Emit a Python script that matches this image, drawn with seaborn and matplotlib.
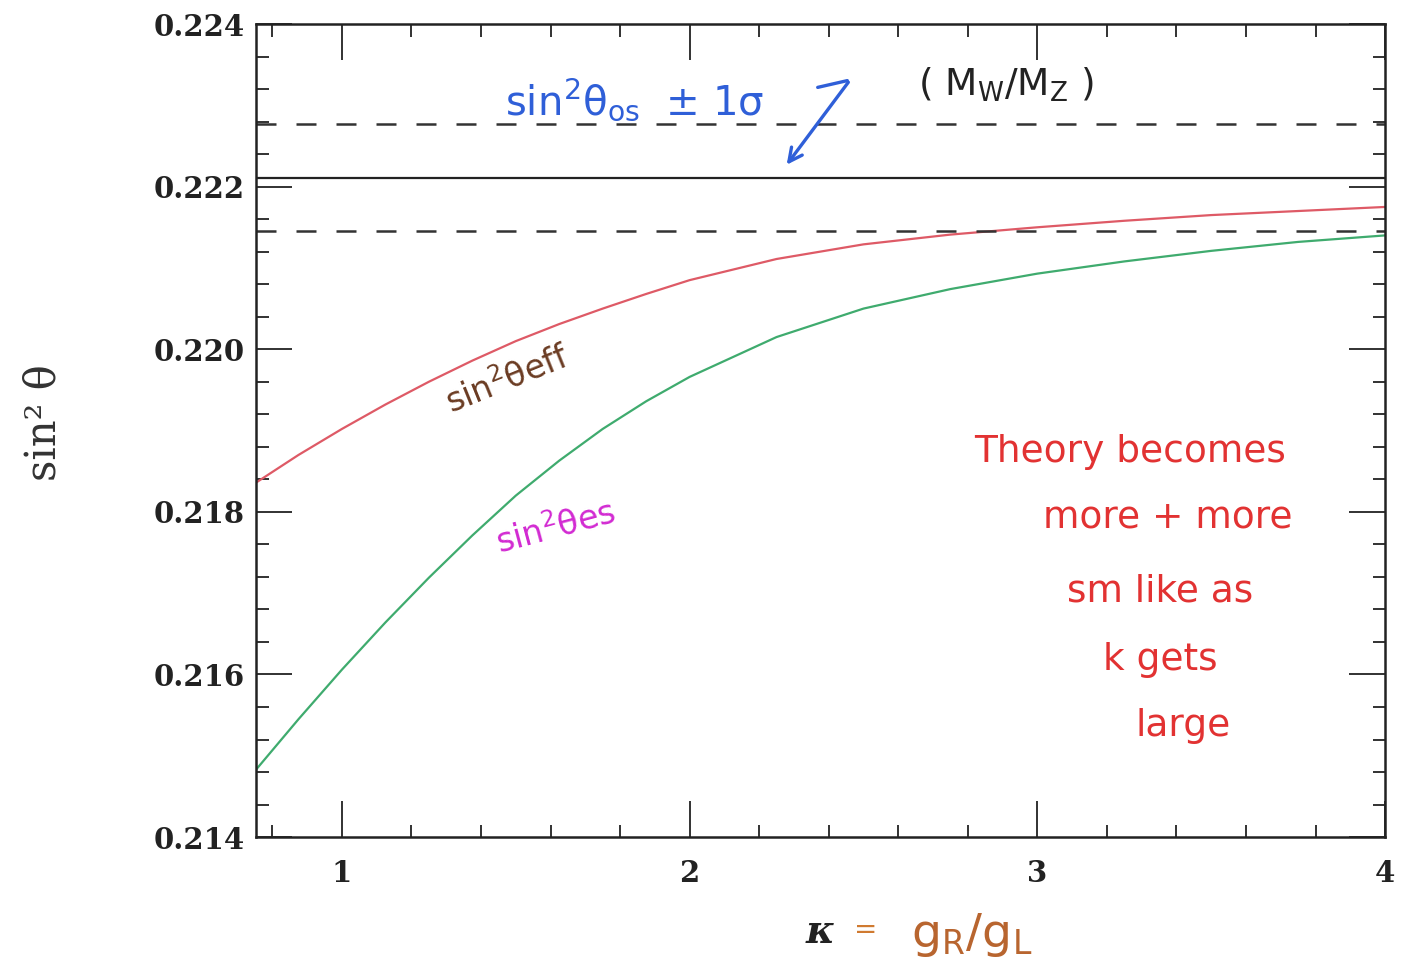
import matplotlib
matplotlib.use("Agg")
import matplotlib.pyplot as plt
from matplotlib.ticker import MultipleLocator, FormatStrFormatter
import numpy as np
import pandas as pd
import seaborn as sns

# kappa = g_R / g_L
kappa = [0.753, 0.875, 1.0, 1.125, 1.25, 1.375, 1.5, 1.625, 1.75, 1.875,
         2.0, 2.25, 2.5, 2.75, 3.0, 3.25, 3.5, 3.75, 4.0]
# sin^2 theta_eff (red curve)
sin2_eff = [0.21836, 0.21870, 0.21902, 0.21932, 0.21960, 0.21986, 0.22010, 0.22031,
            0.22050, 0.22068, 0.22085, 0.22111, 0.22129, 0.22141, 0.22150, 0.22158,
            0.22165, 0.22170, 0.22175]
# sin^2 theta_es (green curve)
sin2_es = [0.21483, 0.21545, 0.21606, 0.21664, 0.21719, 0.21771, 0.21820, 0.21863,
           0.21902, 0.21936, 0.21966, 0.22015, 0.22050, 0.22074, 0.22093, 0.22108,
           0.22121, 0.22132, 0.22140]
# on-shell value from Mw/Mz with 1 sigma band
sin2_os = 0.22211
sin2_os_err = 0.00066

df = pd.DataFrame({"kappa": kappa, "eff": sin2_eff, "es": sin2_es})

sns.set_theme(style="ticks")
plt.rcParams["font.family"] = ["DejaVu Sans"]

fig = plt.figure(figsize=(14.1, 9.6), dpi=100)
ax = fig.add_axes([0.1816, 0.128, 0.8007, 0.847])

sns.lineplot(data=df, x="kappa", y="eff", color="#de5a66", lw=1.6, ax=ax)
sns.lineplot(data=df, x="kappa", y="es", color="#3fab6e", lw=1.6, ax=ax)

ax.axhline(sin2_os, color="#222222", lw=1.6)
for s in (-1, 1):
    ax.axhline(sin2_os + s * sin2_os_err, color="#333333", lw=1.8, ls=(0, (8, 8)))

ax.set_xlim(0.753, 4.0)
ax.set_ylim(0.214, 0.224)
ax.xaxis.set_major_locator(MultipleLocator(1))
ax.xaxis.set_minor_locator(MultipleLocator(0.2))
ax.yaxis.set_major_locator(MultipleLocator(0.002))
ax.yaxis.set_minor_locator(MultipleLocator(0.0004))
ax.xaxis.set_major_formatter(FormatStrFormatter("%d"))
ax.yaxis.set_major_formatter(FormatStrFormatter("%.3f"))
ax.tick_params(which="both", direction="in", top=True, right=True, color="#222222")
ax.tick_params(which="major", length=26, width=1.3, labelsize=21)
ax.tick_params(which="minor", length=9, width=1.3)
ax.tick_params(axis="x", which="major", pad=16)
ax.tick_params(axis="y", which="major", pad=8)
for lab in ax.get_xticklabels() + ax.get_yticklabels():
    lab.set_fontfamily("DejaVu Serif")
    lab.set_fontweight("semibold")
    lab.set_color("#222222")
for sp in ax.spines.values():
    sp.set_linewidth(1.8)
    sp.set_color("#222222")

ax.set_xlabel("")
ax.set_ylabel("sin² θ", fontfamily="DejaVu Serif", fontsize=30, color="#333333")
ax.yaxis.set_label_coords(-0.17, 0.51)

# x label, hand written
fig.text(820 / 1410, 1 - 932 / 960, "κ", fontsize=28, fontfamily="DejaVu Serif",
         style="italic", fontweight="bold", color="#222222", ha="center", va="center")
fig.text(866 / 1410, 1 - 930 / 960, "=", fontsize=20, color="#d07a30", ha="center", va="center")
fig.text(972 / 1410, 1 - 935 / 960, r"g$_\mathrm{R}$/g$_\mathrm{L}$", fontsize=34,
         color="#b8652f", ha="center", va="center")

# on-shell annotation
blue = "#2f5fd8"
fig.text(505 / 1410, 1 - 100 / 960, r"sin$^\mathrm{2}$θ$_\mathrm{os}$  ± 1σ", fontsize=29,
         color=blue, ha="left", va="center")
ax.annotate("", xy=(850, 960 - 80), xytext=(815, 960 - 88), xycoords="figure pixels",
            textcoords="figure pixels", arrowprops=dict(arrowstyle="-", color=blue, lw=2.4))
ax.annotate("", xy=(785, 960 - 167), xytext=(850, 960 - 80), xycoords="figure pixels",
            textcoords="figure pixels",
            arrowprops=dict(arrowstyle="->", color=blue, lw=2.4, mutation_scale=24))
fig.text(1006 / 1410, 1 - 85 / 960, r"( M$_\mathrm{W}$/M$_\mathrm{Z}$ )", fontsize=27,
         color="#222222", ha="center", va="center")

# curve labels
fig.text(508 / 1410, 1 - 380 / 960, r"sin$^\mathrm{2}$θeff", fontsize=24, color="#6a3b22",
         rotation=22, ha="center", va="center")
fig.text(556 / 1410, 1 - 528 / 960, r"sin$^\mathrm{2}$θes", fontsize=24, color="#d22ad2",
         rotation=15, ha="center", va="center")

# comment on the right
red = "#e23232"
note_lines = ["Theory becomes", "more + more", "sm like as", "k gets", "large"]
note_x = [1130, 1168, 1160, 1160, 1183]
note_y = [452, 518, 592, 660, 726]
for txt, px, py in zip(note_lines, note_x, note_y):
    fig.text(px / 1410, 1 - py / 960, txt, fontsize=27, color=red, ha="center", va="center")

fig.savefig("out.png", dpi=100)
